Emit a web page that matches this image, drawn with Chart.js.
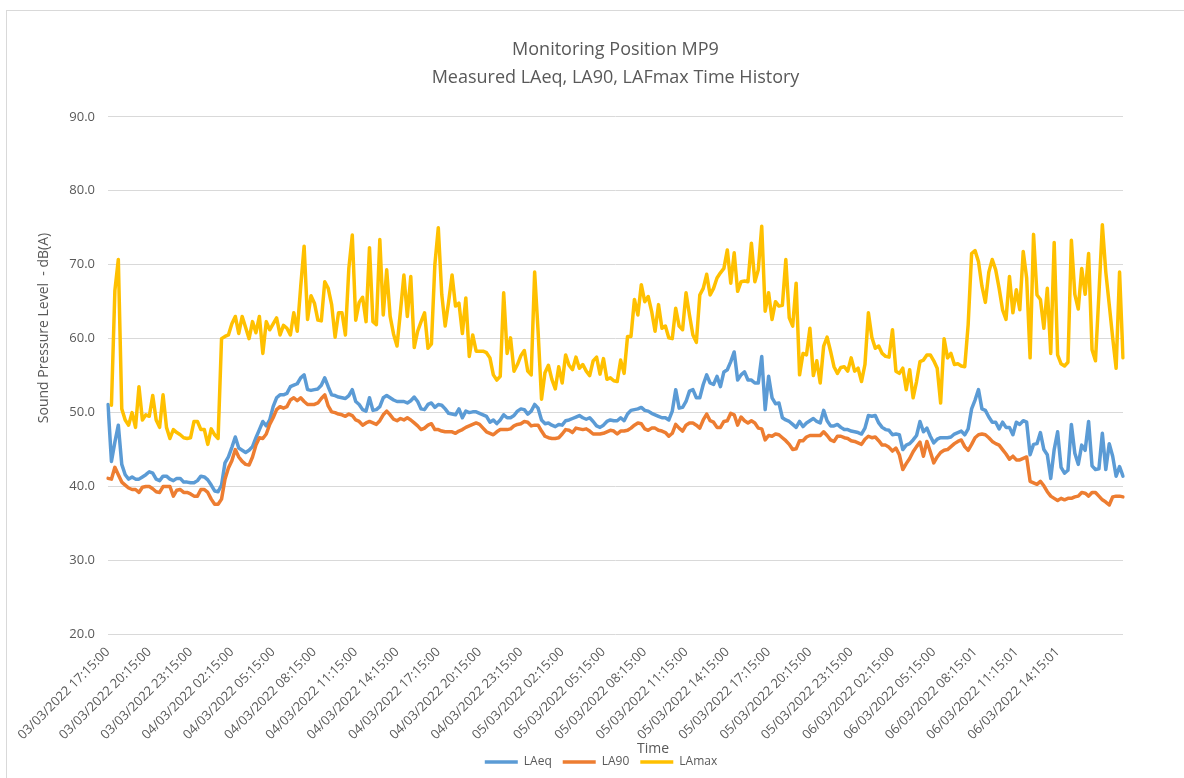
<!DOCTYPE html>
<html lang="en">

<head>
    <meta charset="UTF-8">
    <meta name="viewport" content="width=device-width, initial-scale=1.0">
    <title>MP9 Time History</title>
    <script src="https://cdn.jsdelivr.net/npm/chart.js"></script>
    <style>
        body { margin: 0; background: #fff; }
        #frame { position: absolute; left: 6px; top: 10px; width: 1200px; height: 800px; border: 1px solid #d9d9d9; }
        #wrap { position: absolute; left: 7px; top: 11px; width: 1177px; height: 767px; }
    </style>
</head>

<body>
    <div id="frame"></div>
    <div id="wrap">
        <canvas id="myChart"></canvas>
    </div>
    <script>
        // 15 minute values, one row = 3 hours (12 readings)
        const LAeq = [
            51.1, 43.4, 46, 48.3, 43, 41.6, 41, 41.3, 41, 41, 41.3, 41.6,
            42, 41.8, 41, 40.8, 41.4, 41.4, 41, 40.8, 41.1, 41.1, 40.6, 40.6,
            40.5, 40.5, 40.8, 41.4, 41.3, 40.9, 40.2, 39.4, 39.3, 40.2, 43.2, 44,
            45.3, 46.7, 45.2, 44.9, 44.6, 44.9, 45.4, 46.6, 47.7, 48.8, 48.2, 49,
            50.8, 52, 52.4, 52.4, 52.6, 53.5, 53.7, 53.9, 54.7, 55.1, 53.1, 53,
            53.1, 53.2, 53.7, 54.7, 53.5, 52.4, 52.3, 52.1, 52, 51.9, 52.3, 53.1,
            51.5, 51.1, 50.4, 50.2, 52, 50.3, 50.4, 50.8, 52, 52.3, 52, 51.7,
            51.5, 51.5, 51.5, 51.3, 51.6, 52.1, 51.5, 50.5, 50.4, 51.1, 51.3, 50.7,
            51.1, 51, 50.5, 49.9, 49.8, 49.7, 50.5, 49.3, 50.2, 50, 50.1, 50.1,
            49.9, 49.7, 49.5, 48.7, 49, 48.5, 49, 49.7, 49.3, 49.3, 49.6, 50.2,
            50.5, 50.4, 49.8, 50.2, 51.1, 50.6, 49, 48.5, 48.6, 48.3, 48.1, 48.4,
            48.3, 48.9, 49, 49.2, 49.4, 49.6, 49.3, 49.1, 49.3, 48.8, 48.2, 48,
            48.3, 48.8, 49, 48.9, 48.9, 49.3, 48.9, 49.8, 50.3, 50.4, 50.5, 50.7,
            50.3, 50.2, 49.9, 49.7, 49.5, 49.3, 49.3, 49, 50.2, 53.1, 50.6, 50.7,
            51.5, 52.9, 53.1, 52, 52, 53.8, 55.1, 54, 53.8, 54.9, 53.5, 55.5,
            55.8, 56.9, 58.2, 54.4, 55.1, 55.5, 54.4, 54.4, 54, 54, 57.6, 50.4,
            54.9, 52, 51.2, 51.3, 49.3, 49, 48.8, 48.4, 48, 48.8, 48.1, 48.6,
            48.9, 49.2, 48.8, 48.6, 50.3, 48.9, 48.2, 48.2, 48.4, 48, 47.7, 47.7,
            47.5, 47.4, 47.3, 47.1, 47.9, 49.6, 49.5, 49.6, 48.6, 48, 47.7, 47.6,
            47, 47.1, 47, 45, 45.6, 45.8, 46.3, 46.9, 48.8, 47.4, 47.9, 46.8,
            45.9, 46.4, 46.6, 46.6, 46.6, 46.7, 47.1, 47.3, 47.5, 47, 47.8, 50.5,
            51.7, 53.1, 50.5, 50.3, 49.4, 48.7, 48.7, 47.8, 48.7, 48, 48, 47,
            48.7, 48.4, 48.9, 48.7, 44.3, 45.7, 45.8, 47.3, 45, 44.3, 41.1, 45,
            47.4, 42.6, 41.8, 42.2, 48.4, 44.5, 43, 45.6, 44.9, 48.8, 42.8, 42.3,
            42.4, 47.2, 42.3, 45.8, 44.1, 41.4, 42.7, 41.4
        ];
        const LA90 = [
            41.1, 41, 42.6, 41.6, 40.6, 40.2, 39.8, 39.6, 39.6, 39.2, 39.9, 40,
            40, 39.7, 39.3, 39.2, 40, 40, 40, 38.7, 39.5, 39.6, 39.2, 39.2,
            39, 38.7, 38.7, 39.6, 39.6, 39.2, 38.3, 37.6, 37.6, 38.3, 41, 42.5,
            43.5, 45, 44, 43.4, 43, 42.9, 44, 45.6, 46.6, 46.5, 47.1, 48.4,
            49.3, 50.4, 50.8, 50.6, 50.8, 51.7, 52, 51.6, 52, 51.5, 51.1, 51.1,
            51.1, 51.3, 51.9, 52.4, 50.9, 50.1, 50, 49.8, 49.7, 49.5, 49.8, 49.6,
            49, 48.8, 48.3, 48.6, 48.8, 48.6, 48.4, 48.9, 49.7, 50.2, 49.7, 49.1,
            48.9, 49.2, 49, 49.3, 49, 48.6, 48.2, 47.7, 47.9, 48.3, 48.5, 47.7,
            47.7, 47.5, 47.4, 47.4, 47.4, 47.2, 47.5, 47.7, 48, 48.2, 48.4, 48.6,
            48.4, 47.9, 47.4, 47.2, 47, 47.4, 47.7, 47.7, 47.7, 47.8, 48.2, 48.4,
            48.5, 48.8, 48.7, 48.2, 48.3, 48.3, 47.5, 46.8, 46.6, 46.5, 46.5, 46.6,
            47.1, 47.7, 47.6, 47.3, 47.9, 47.8, 47.7, 47.8, 47.5, 47.1, 47.1, 47.1,
            47.2, 47.4, 47.6, 47.5, 47.1, 47.5, 47.5, 47.6, 47.9, 48.3, 48.6, 48.5,
            47.8, 47.6, 47.9, 47.9, 47.6, 47.5, 47.3, 46.8, 47.2, 48.4, 47.9, 47.5,
            48.3, 48.6, 48.6, 48.3, 47.9, 49, 49.8, 48.9, 48.7, 48, 48, 48.8,
            48.9, 49.9, 49.7, 48.3, 49.4, 48.9, 48.6, 48.9, 48.6, 47.9, 47.8, 46.3,
            46.9, 46.8, 47.1, 47, 46.6, 46.2, 45.7, 45, 45.1, 46.2, 46.2, 46.7,
            46.9, 46.9, 46.9, 46.9, 47.4, 46.9, 46.3, 46.1, 46.8, 46.8, 46.6, 46.5,
            46.2, 46.1, 45.9, 45.7, 46.4, 46.8, 46.6, 46.7, 46.2, 45.6, 45.6, 45.3,
            44.8, 45.2, 44.3, 42.3, 43.1, 43.8, 44.7, 45.4, 46, 44.1, 46.1, 44.7,
            43.2, 44, 44.6, 44.9, 45, 45.4, 45.8, 46.1, 46.3, 45.4, 44.9, 45.7,
            46.6, 47, 47.1, 47, 46.6, 46.1, 45.8, 45.6, 45, 44.4, 43.7, 44.1,
            43.6, 43.6, 43.8, 44, 40.7, 40.5, 40.3, 40.7, 40.1, 39.3, 38.7, 38.4,
            38.1, 38.4, 38.2, 38.4, 38.4, 38.6, 38.7, 39.2, 39.1, 38.7, 39.2, 39.2,
            38.7, 38.2, 37.9, 37.5, 38.6, 38.7, 38.7, 38.6
        ];
        const LAmax = [
            null, 51, 66.5, 70.7, 50.5, 49, 48.3, 50, 48, 53.5, 49, 49.7,
            49.5, 52.3, 49, 48, 52.4, 48, 46.5, 47.7, 47.3, 47, 46.6, 46.5,
            46.6, 48.8, 48.8, 47.7, 47.7, 45.7, 47.8, 47, 46.5, 60, 60.3, 60.5,
            62, 63, 60.7, 63, 61.5, 60, 62.3, 60.8, 63, 58, 62.3, 61.2,
            62, 62.8, 60.5, 61.8, 61.4, 60.5, 63.5, 61, 67, 72.5, 62.6, 65.8,
            64.8, 62.5, 62.4, 67.7, 66.8, 64.6, 60.2, 63.5, 63.5, 60.5, 69.5, 74,
            62.5, 64.9, 65.6, 62.3, 72.3, 62.3, 61.9, 73.4, 63.2, 69.3, 63, 60.6,
            59, 63.7, 68.6, 63, 68.4, 58.8, 61, 62.3, 63.5, 58.7, 59.3, 70,
            75, 66, 61.7, 65, 68.6, 64.4, 64.8, 60.7, 65.5, 57.6, 60.5, 58.3,
            58.3, 58.3, 58.1, 57.4, 55.1, 54.4, 54.9, 66.2, 58, 60.1, 55.6, 56.5,
            57.7, 58.4, 55.6, 55.1, 69, 61, 51.8, 55.4, 56.4, 54.5, 53.2, 56.2,
            54, 57.8, 56.4, 55.8, 57.5, 56, 56.5, 55.6, 55, 57, 57.5, 55.2,
            57.3, 54.5, 54.7, 54.3, 54.2, 57.1, 55.3, 60.3, 60.3, 65.3, 63.2, 67.3,
            65, 65.7, 63.7, 61, 64.6, 61.4, 61.7, 60.1, 60, 64.1, 61.7, 61.2,
            66.2, 63.2, 60.5, 59.5, 65.9, 66.8, 68.7, 65.9, 66.8, 68.2, 68.9, 69.5,
            72, 67.5, 71.6, 66.4, 67.7, 67.8, 67.7, 72.9, 67.7, 69.3, 75.2, 63.7,
            66.2, 62.6, 65, 64.4, 64.5, 70.7, 62.8, 61.7, 67.5, 55.1, 58, 57.8,
            61.4, 55, 57, 54, 59, 60.2, 58.3, 56.2, 55.3, 56.1, 56.2, 55.6,
            57.4, 55.6, 56, 54.2, 56.5, 63.5, 60.2, 58.7, 59, 58, 57.6, 57.5,
            61.2, 55.6, 55.3, 56, 53.1, 55.8, 52, 54.2, 56.9, 57.1, 57.8, 57.8,
            57, 56, 51.3, 60, 57.4, 58, 56.5, 56.6, 56.3, 56.2, 61.9, 71.5,
            71.9, 70.4, 67.1, 64.9, 69, 70.7, 69.3, 66.8, 63.9, 62.6, 68.4, 63.5,
            66.6, 63.9, 71.8, 68.2, 57.4, 74.1, 65.9, 65.3, 61.4, 66.8, 58, 73,
            57.8, 56.6, 56.3, 56.8, 73.3, 66, 64, 69.5, 66, 71.5, 58.5, 57,
            66, 75.4, 69, 64.6, 60.1, 56, 69, 57.4
        ];
        // every 12th category is labelled
        const tickLabels = [
            '03/03/2022 17:15:00', '03/03/2022 20:15:00', '03/03/2022 23:15:00',
            '04/03/2022 02:15:00', '04/03/2022 05:15:00', '04/03/2022 08:15:00',
            '04/03/2022 11:15:00', '04/03/2022 14:15:00', '04/03/2022 17:15:00',
            '04/03/2022 20:15:00', '04/03/2022 23:15:00', '05/03/2022 02:15:00',
            '05/03/2022 05:15:00', '05/03/2022 08:15:00', '05/03/2022 11:15:00',
            '05/03/2022 14:15:00', '05/03/2022 17:15:00', '05/03/2022 20:15:00',
            '05/03/2022 23:15:00', '06/03/2022 02:15:00', '06/03/2022 05:15:00',
            '06/03/2022 08:15:01', '06/03/2022 11:15:01', '06/03/2022 14:15:01'
        ];
        const seriesNames = ['LAeq', 'LA90', 'LAmax'];
        const seriesColors = ['#5B9BD5', '#ED7D31', '#FFC000'];
        const titleLines = ['Monitoring Position MP9', 'Measured LAeq, LA90, LAFmax Time History'];
        const yTitle = 'Sound Pressure Level  - dB(A)';
        const xTitle = 'Time';

        // category per reading (15 min steps)
        const pad = n => String(n).padStart(2, '0');
        const t0 = Date.UTC(2022, 2, 3, 17, 15, 0);
        const labels = LAeq.map((_, i) => {
            const d = new Date(t0 + i * 15 * 60000);
            return pad(d.getUTCDate()) + '/' + pad(d.getUTCMonth() + 1) + '/' + d.getUTCFullYear() + ' ' +
                pad(d.getUTCHours()) + ':' + pad(d.getUTCMinutes()) + (i > 240 ? ':01' : ':00');
        });

        Chart.defaults.font.family = "'Open Sans', sans-serif";
        Chart.defaults.color = '#595959';

        // axis titles sit off-centre in the original, so draw them by hand
        const axisTitles = {
            id: 'axisTitles',
            afterDraw(chart) {
                const ctx = chart.ctx;
                ctx.save();
                ctx.fillStyle = '#595959';
                ctx.textAlign = 'center';
                ctx.textBaseline = 'middle';
                ctx.font = "14px 'Open Sans'";
                ctx.translate(37, 317);
                ctx.rotate(-Math.PI / 2);
                ctx.fillText(yTitle, 0, 0);
                ctx.restore();
                ctx.save();
                ctx.fillStyle = '#595959';
                ctx.textAlign = 'center';
                ctx.textBaseline = 'middle';
                ctx.font = "14px 'Open Sans'";
                ctx.fillText(xTitle, 646, 738);
                ctx.restore();
            }
        };

        const series = [LAeq, LA90, LAmax];
        const datasets = series.map((d, k) => ({
            label: seriesNames[k],
            data: d,
            borderColor: seriesColors[k],
            backgroundColor: seriesColors[k],
            borderWidth: 3.5,
            pointRadius: 0,
            tension: 0,
            borderJoinStyle: 'round',
            borderCapStyle: 'round',
            order: 2 - k
        }));

        new Chart(document.getElementById('myChart'), {
            type: 'line',
            data: { labels, datasets },
            options: {
                responsive: true,
                maintainAspectRatio: false,
                animation: false,
                layout: { padding: { left: 11, right: 0, top: 0, bottom: 0 } },
                plugins: {
                    tooltip: { enabled: false },
                    title: {
                        display: true,
                        text: titleLines,
                        fullSize: false,
                        color: '#595959',
                        font: { size: 18, weight: 'normal', lineHeight: 1.55 },
                        padding: { top: 25, bottom: 25 }
                    },
                    legend: {
                        position: 'bottom',
                        labels: {
                            usePointStyle: true,
                            pointStyle: 'line',
                            pointStyleWidth: 33,
                            color: '#595959',
                            font: { size: 12 },
                            padding: 11,
                            sort: (a, b) => a.datasetIndex - b.datasetIndex
                        }
                    }
                },
                scales: {
                    x: {
                        grid: { display: false },
                        border: { display: false },
                        ticks: {
                            autoSkip: false,
                            minRotation: 45,
                            maxRotation: 45,
                            padding: 2,
                            color: '#595959',
                            font: { size: 13 },
                            callback: (v, i) => (i % 12 === 0 ? tickLabels[i / 12] : '')
                        }
                    },
                    y: {
                        min: 20,
                        max: 90,
                        grid: { color: '#d9d9d9', drawTicks: false },
                        border: { display: false },
                        ticks: {
                            stepSize: 10,
                            padding: 13,
                            color: '#595959',
                            font: { size: 13 },
                            callback: v => v.toFixed(1)
                        },
                        afterFit(scale) { scale.width = 90; }
                    },
                    // empty right axis, only keeps the plot clear of the right edge
                    yRight: {
                        position: 'right',
                        display: true,
                        grid: { display: false },
                        border: { display: false },
                        ticks: { display: false },
                        afterFit(scale) { scale.width = 61; }
                    }
                }
            },
            plugins: [axisTitles]
        });
    </script>
</body>

</html>
